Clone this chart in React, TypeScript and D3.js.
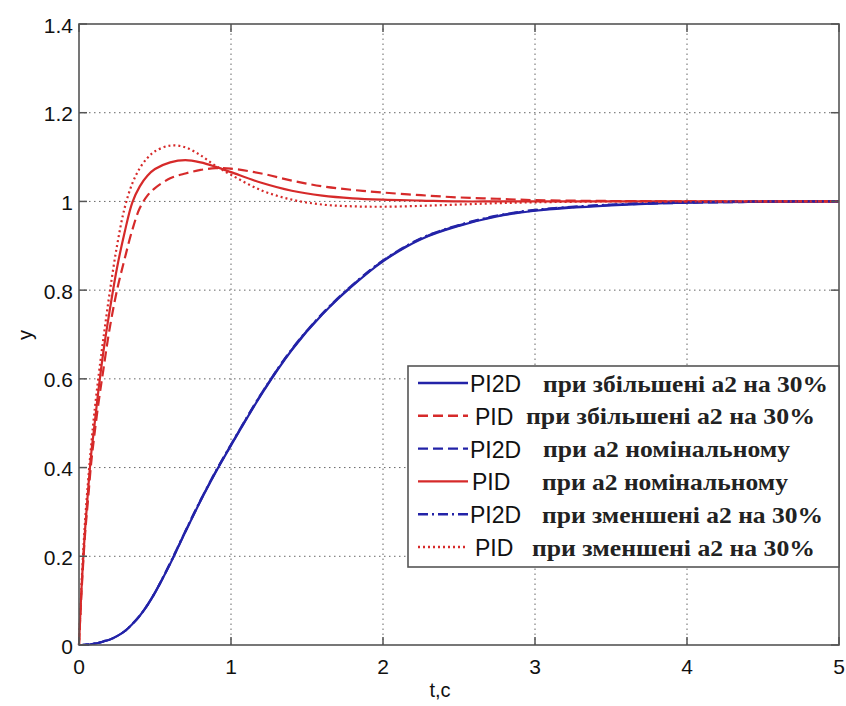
import React from "react";
import * as d3 from "d3";

const T = [0, 0.01, 0.02, 0.04, 0.06, 0.08, 0.1, 0.13, 0.16, 0.2, 0.25, 0.3, 0.35, 0.4, 0.45, 0.5, 0.6, 0.7, 0.8, 0.9, 1.0, 1.2, 1.4, 1.6, 1.8, 2.0, 2.25, 2.5, 2.75, 3.0, 3.5, 4.0, 4.5, 5.0];

const pi2dUp = [0, 0, 0, 0.0005, 0.001, 0.002, 0.003, 0.005, 0.008, 0.012, 0.02, 0.031, 0.047, 0.066, 0.09, 0.118, 0.183, 0.255, 0.325, 0.39, 0.45, 0.565, 0.665, 0.745, 0.81, 0.865, 0.915, 0.945, 0.966, 0.979, 0.991, 0.997, 0.999, 1.0];
const pidUp = [0, 0.075, 0.14, 0.25, 0.33, 0.41, 0.47, 0.55, 0.62, 0.71, 0.8, 0.87, 0.935, 0.985, 1.013, 1.03, 1.052, 1.063, 1.071, 1.075, 1.074, 1.063, 1.047, 1.034, 1.026, 1.02, 1.014, 1.009, 1.006, 1.003, 1.001, 1.0, 1.0, 1.0];
const pi2dNom = [0, 0, 0, 0.0005, 0.001, 0.002, 0.003, 0.005, 0.008, 0.012, 0.02, 0.031, 0.047, 0.066, 0.09, 0.118, 0.184, 0.256, 0.326, 0.391, 0.451, 0.566, 0.666, 0.746, 0.811, 0.866, 0.916, 0.946, 0.967, 0.98, 0.992, 0.997, 0.999, 1.0];
const pidNom = [0, 0.08, 0.15, 0.26, 0.35, 0.43, 0.49, 0.58, 0.66, 0.75, 0.85, 0.93, 0.997, 1.034, 1.058, 1.073, 1.088, 1.093, 1.088, 1.078, 1.066, 1.042, 1.024, 1.013, 1.007, 1.004, 1.002, 1.0, 1.0, 1.0, 1.0, 1.0, 1.0, 1.0];
const pi2dDown = [0, 0, 0, 0.0005, 0.001, 0.002, 0.003, 0.005, 0.008, 0.012, 0.02, 0.031, 0.047, 0.066, 0.09, 0.118, 0.185, 0.257, 0.327, 0.392, 0.452, 0.567, 0.667, 0.747, 0.812, 0.867, 0.917, 0.947, 0.968, 0.981, 0.993, 0.998, 1.0, 1.0];
const pidDown = [0, 0.085, 0.16, 0.28, 0.37, 0.45, 0.52, 0.61, 0.69, 0.79, 0.9, 0.985, 1.04, 1.075, 1.098, 1.113, 1.126, 1.122, 1.104, 1.08, 1.06, 1.025, 1.004, 0.993, 0.989, 0.988, 0.99, 0.993, 0.996, 0.998, 1.0, 1.0, 1.0, 1.0];

const xTicks = [0, 1, 2, 3, 4, 5];
const yTicks = [0, 0.2, 0.4, 0.6, 0.8, 1, 1.2, 1.4];
const yTickLabels = ["0", "0.2", "0.4", "0.6", "0.8", "1", "1.2", "1.4"];

const legendCtrl = ["PI2D", "PID", "PI2D", "PID", "PI2D", "PID"];
const legendDesc = [
  "при збільшені а2 на 30%",
  "при збільшені а2 на 30%",
  "при а2 номінальному",
  "при а2 номінальному",
  "при зменшені а2 на 30%",
  "при зменшені а2 на 30%",
];

const BLUE = "#2323a8";
const RED = "#d62a2a";

const series = [
  { values: pi2dUp, color: BLUE, dash: "none" },
  { values: pidUp, color: RED, dash: "10,5" },
  { values: pi2dNom, color: BLUE, dash: "10,5" },
  { values: pidNom, color: RED, dash: "none" },
  { values: pi2dDown, color: BLUE, dash: "10,4,2,4" },
  { values: pidDown, color: RED, dash: "2,3" },
];

const legendLayout = [
  { ctrlX: 470, descX: 543, descW: 285 },
  { ctrlX: 475, descX: 526, descW: 289 },
  { ctrlX: 470, descX: 543, descW: 247 },
  { ctrlX: 472, descX: 542, descW: 246 },
  { ctrlX: 470, descX: 542, descW: 281 },
  { ctrlX: 475, descX: 532, descW: 283 },
];

export default function App() {
  const W = 846, H = 706;
  const x = d3.scaleLinear().domain([0, 5]).range([79, 839]);
  const y = d3.scaleLinear().domain([0, 1.4]).range([645, 24]);
  const line = d3
    .line<number>()
    .x((_, i) => x(T[i]))
    .y((d) => y(d))
    .curve(d3.curveCatmullRom.alpha(0.5));

  const [x0, x1] = x.range();
  const [y0, y1] = y.range();
  const tickLen = 8;
  const axisColor = "#555";
  const sans = "'Liberation Sans', Arial, sans-serif";
  const serif = "'Liberation Serif', 'Times New Roman', serif";

  const lgTop = 366, lgBottom = 567, lgLeft = 408, lgRight = 839;
  const rowY = (i: number) => 383 + i * 32.8;

  return (
    <svg width={W} height={H} style={{ position: "absolute", left: 0, top: 0, background: "#fff" }}>
      <rect x={0} y={0} width={W} height={H} fill="#fff" />
      {xTicks.slice(1, -1).map((t) => (
        <line key={"gx" + t} x1={x(t)} x2={x(t)} y1={y0} y2={y1} stroke="#666" strokeWidth={1} strokeDasharray="1.5,3.5" />
      ))}
      {yTicks.slice(1, -1).map((t) => (
        <line key={"gy" + t} x1={x0} x2={x1} y1={y(t)} y2={y(t)} stroke="#666" strokeWidth={1} strokeDasharray="1.5,3.5" />
      ))}
      {series.map((s, i) => (
        <path key={"s" + i} d={line(s.values) || ""} fill="none" stroke={s.color} strokeWidth={2.2} strokeDasharray={s.dash} />
      ))}
      <rect x={x0} y={y1} width={x1 - x0} height={y0 - y1} fill="none" stroke={axisColor} strokeWidth={1.6} />
      {xTicks.map((t) => (
        <g key={"xt" + t}>
          <line x1={x(t)} x2={x(t)} y1={y0} y2={y0 - tickLen} stroke={axisColor} strokeWidth={1.5} />
          <line x1={x(t)} x2={x(t)} y1={y1} y2={y1 + tickLen} stroke={axisColor} strokeWidth={1.5} />
          <text x={x(t)} y={y0 + 21} textAnchor="middle" dominantBaseline="central" fontFamily={sans} fontSize={21} fill="#111">
            {t}
          </text>
        </g>
      ))}
      {yTicks.map((t, i) => (
        <g key={"yt" + t}>
          <line x1={x0} x2={x0 + tickLen} y1={y(t)} y2={y(t)} stroke={axisColor} strokeWidth={1.5} />
          <line x1={x1} x2={x1 - tickLen} y1={y(t)} y2={y(t)} stroke={axisColor} strokeWidth={1.5} />
          <text x={x0 - 6} y={y(t) + 1} textAnchor="end" dominantBaseline="central" fontFamily={sans} fontSize={21} fill="#111">
            {yTickLabels[i]}
          </text>
        </g>
      ))}
      <text x={440} y={690} textAnchor="middle" dominantBaseline="central" fontFamily={sans} fontSize={20} fill="#111">
        t,c
      </text>
      <text transform={`translate(25,335) rotate(-90)`} textAnchor="middle" dominantBaseline="central" fontFamily={sans} fontSize={20} fill="#111">
        y
      </text>
      <rect x={lgLeft} y={lgTop} width={lgRight - lgLeft} height={lgBottom - lgTop} fill="#fff" stroke={axisColor} strokeWidth={1.6} />
      {series.map((s, i) => (
        <g key={"lg" + i}>
          <line x1={418} x2={468} y1={rowY(i)} y2={rowY(i)} stroke={s.color} strokeWidth={2.4} strokeDasharray={s.dash} />
          <text x={legendLayout[i].ctrlX} y={rowY(i) + 1} dominantBaseline="central" fontFamily={sans} fontSize={23} fill="#111">
            {legendCtrl[i]}
          </text>
          <text
            x={legendLayout[i].descX}
            y={rowY(i) + 1}
            dominantBaseline="central"
            fontFamily={serif}
            fontWeight="bold"
            fontSize={23}
            fill="#222"
            textLength={legendLayout[i].descW}
            lengthAdjust="spacingAndGlyphs"
          >
            {legendDesc[i]}
          </text>
        </g>
      ))}
    </svg>
  );
}
